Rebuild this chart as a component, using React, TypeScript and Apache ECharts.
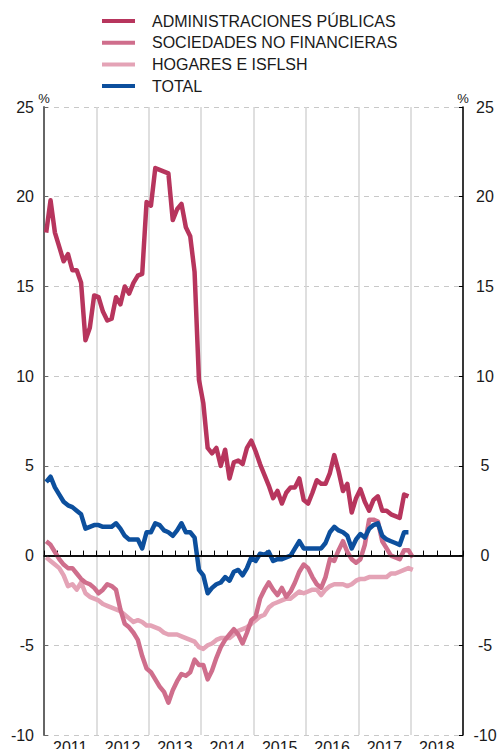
import React, { useEffect, useRef } from "react";
import * as echarts from "echarts";

const years = ["2011", "2012", "2013", "2014", "2015", "2016", "2017", "2018"];

const seriesNames = [
  "ADMINISTRACIONES PÚBLICAS",
  "SOCIEDADES NO FINANCIERAS",
  "HOGARES E ISFLSH",
  "TOTAL",
];

const unitLabel = "%";

// Monthly values starting January 2011 (%)
const admin = [
  18.0, 19.8, 18.0, 17.2, 16.4, 16.8, 15.9, 15.9, 15.2, 12.0,
  12.7, 14.5, 14.4, 13.6, 13.1, 13.2, 14.4, 14.0, 15.0, 14.6,
  15.2, 15.6, 15.7, 19.7, 19.5, 21.6, 21.5, 21.4, 21.3, 18.7,
  19.3, 19.6, 18.3, 17.8, 15.8, 9.8, 8.5, 6.0, 5.7, 6.0,
  5.0, 5.9, 4.3, 5.2, 5.3, 5.1, 6.0, 6.4, 5.8, 5.1,
  4.5, 3.9, 3.2, 3.6, 2.9, 3.5, 3.8, 3.8, 4.3, 3.1,
  2.9, 3.5, 4.2, 4.0, 4.0, 4.6, 5.6, 4.7, 3.6, 4.0,
  2.4, 3.2, 3.7, 3.0, 2.5, 3.1, 3.3, 2.5, 2.5, 2.3,
  2.2, 2.1, 3.4, 3.3,
];

const sociedades = [
  0.8, 0.6, 0.2, -0.2, -0.5, -0.7, -0.7, -1.0, -1.3, -1.5,
  -1.6, -1.8, -2.1, -1.9, -1.6, -1.7, -1.9, -3.0, -3.8, -4.0,
  -4.3, -4.7, -5.6, -6.3, -6.5, -6.9, -7.3, -7.6, -8.2, -7.5,
  -7.0, -6.6, -6.7, -6.5, -5.8, -6.1, -6.1, -6.9, -6.4, -5.7,
  -5.1, -4.7, -4.4, -4.1, -4.4, -4.9, -4.3, -3.6, -3.4, -2.4,
  -1.9, -1.5, -1.9, -2.2, -1.8, -2.3, -2.0, -1.5, -0.9, -0.5,
  -0.7, -1.2, -1.6, -1.8, -1.2, -0.2, -0.3, 0.3, 0.8, 0.2,
  -0.2, -0.4, -0.2, 0.6, 2.0, 2.0, 1.9, 0.8, 0.4, 0.0,
  -0.1, -0.2, 0.3, 0.3, -0.1,
];

const hogares = [
  -0.1, -0.3, -0.5, -0.7, -1.1, -1.7, -1.6, -1.9, -1.5, -2.1,
  -2.3, -2.4, -2.5, -2.7, -2.8, -2.9, -3.0, -3.1, -3.3, -3.5,
  -3.7, -3.6, -3.7, -3.9, -3.9, -4.0, -4.1, -4.3, -4.4, -4.4,
  -4.4, -4.5, -4.6, -4.7, -4.8, -5.1, -5.2, -5.0, -4.9, -4.7,
  -4.6, -4.6, -4.6, -4.4, -4.2, -4.1, -4.0, -3.8, -3.6, -3.4,
  -3.3, -2.9, -2.7, -2.6, -2.5, -2.4, -2.4, -2.2, -2.0, -2.1,
  -2.0, -1.9, -1.9, -2.2, -1.9, -1.7, -1.6, -1.6, -1.6, -1.7,
  -1.6, -1.4, -1.3, -1.3, -1.2, -1.2, -1.2, -1.2, -1.2, -1.0,
  -1.0, -0.9, -0.8, -0.7, -0.8,
];

const total = [
  4.1, 4.4, 3.8, 3.4, 3.0, 2.8, 2.7, 2.5, 2.3, 1.5,
  1.6, 1.7, 1.7, 1.6, 1.6, 1.6, 1.8, 1.5, 1.1, 0.9,
  0.9, 0.9, 0.4, 1.3, 1.3, 1.8, 1.7, 1.4, 1.3, 1.1,
  1.4, 1.8, 1.3, 1.3, 1.0, -0.8, -1.1, -2.1, -1.8, -1.6,
  -1.5, -1.2, -1.4, -0.9, -0.8, -1.1, -0.7, -0.1, -0.3, 0.1,
  0.05, 0.2, -0.3, -0.2, -0.2, -0.1, 0.0, 0.4, 0.8, 0.4,
  0.4, 0.4, 0.4, 0.4, 0.7, 1.3, 1.6, 1.4, 1.3, 1.1,
  0.4, 0.9, 1.2, 1.0, 1.5, 1.7, 1.8, 1.1, 0.9, 0.8,
  0.7, 0.6, 1.3, 1.3,
];

const colors = {
  admin: "#b7355d",
  soc: "#cf6e8c",
  hog: "#e4a3b6",
  total: "#0c4f9d",
};

const FONT = "'Liberation Sans', Arial, Helvetica, sans-serif";

const toPoints = (arr: number[]) => arr.map((v, i) => [i + 0.5, v]);

export default function App() {
  const ref = useRef<HTMLDivElement>(null);

  useEffect(() => {
    if (!ref.current) return;
    const chart = echarts.init(ref.current, undefined, { renderer: "svg" });

    const lineSeries = (name: string, data: number[], color: string, extra: any = {}) => ({
      name,
      type: "line",
      data: toPoints(data),
      xAxisIndex: 0,
      yAxisIndex: 0,
      showSymbol: false,
      symbol: "none",
      color,
      lineStyle: { color, width: 4.5, join: "round" },
      emphasis: { disabled: true },
      ...extra,
    });

    const pctText = (x: number) => ({
      type: "text",
      x,
      y: 98,
      silent: true,
      style: {
        text: unitLabel,
        fill: "#1a1a1a",
        font: `13px ${FONT}`,
        align: "center",
        verticalAlign: "middle",
      },
    });

    chart.setOption({
      animation: false,
      textStyle: { fontFamily: FONT },
      legend: {
        show: true,
        orient: "vertical",
        left: 102,
        top: 13,
        padding: 0,
        itemWidth: 33,
        itemHeight: 4,
        itemGap: 5.7,
        icon: "rect",
        selectedMode: false,
        data: seriesNames,
        textStyle: {
          fontFamily: FONT,
          fontSize: 16,
          lineHeight: 16,
          color: "#1a1a1a",
          padding: [0, 0, 0, 12],
        },
      },
      graphic: [pctText(44), pctText(463)],
      grid: {
        left: 44,
        right: 34,
        top: 107,
        bottom: 14,
        containLabel: false,
        outerBoundsMode: "none",
      },
      xAxis: [
        {
          type: "value",
          min: 0,
          max: 96,
          interval: 12,
          position: "bottom",
          axisLabel: { show: false },
          axisLine: { show: true, lineStyle: { color: "#000", width: 1.5 } },
          axisTick: { show: true, inside: true, length: 5, lineStyle: { color: "#000", width: 1 } },
          minorTick: { show: true, splitNumber: 4, length: 5, lineStyle: { color: "#000", width: 1 } },
          splitLine: { show: true, lineStyle: { color: "#d5d5d5", width: 1.5, type: "solid" } },
        },
        {
          type: "category",
          data: years,
          position: "bottom",
          boundaryGap: true,
          axisLine: { show: false },
          axisTick: { show: false },
          splitLine: { show: false },
          axisLabel: { margin: 4, fontSize: 16, color: "#1a1a1a", fontFamily: FONT },
        },
      ],
      yAxis: [
        {
          type: "value",
          min: -10,
          max: 25,
          interval: 5,
          position: "left",
          axisLine: { show: true, lineStyle: { color: "#666", width: 2 } },
          axisTick: { show: true, inside: true, length: 4, lineStyle: { color: "#666" } },
          axisLabel: { margin: 10, fontSize: 16, color: "#1a1a1a", fontFamily: FONT },
          splitLine: { show: true, lineStyle: { color: "#c8c8c8", width: 1, type: [5, 5] } },
        },
        {
          type: "value",
          min: -10,
          max: 25,
          interval: 5,
          position: "right",
          axisLine: { show: true, lineStyle: { color: "#000", width: 1.5 } },
          axisTick: { show: true, inside: true, length: 4, lineStyle: { color: "#000" } },
          axisLabel: { margin: 22, align: "center", fontSize: 16, color: "#1a1a1a", fontFamily: FONT },
          splitLine: { show: false },
        },
      ],
      series: [
        lineSeries(seriesNames[2], hogares, colors.hog, {
          markLine: {
            silent: true,
            symbol: ["none", "none"],
            label: { show: false },
            lineStyle: { color: "#000", type: "solid", width: 1.5 },
            data: [{ yAxis: 0 }],
          },
        }),
        lineSeries(seriesNames[1], sociedades, colors.soc),
        lineSeries(seriesNames[0], admin, colors.admin),
        lineSeries(seriesNames[3], total, colors.total),
      ],
    });

    return () => chart.dispose();
  }, []);

  return (
    <div
      ref={ref}
      style={{ position: "absolute", left: 0, top: 0, width: 497, height: 749, background: "#fff" }}
    />
  );
}
